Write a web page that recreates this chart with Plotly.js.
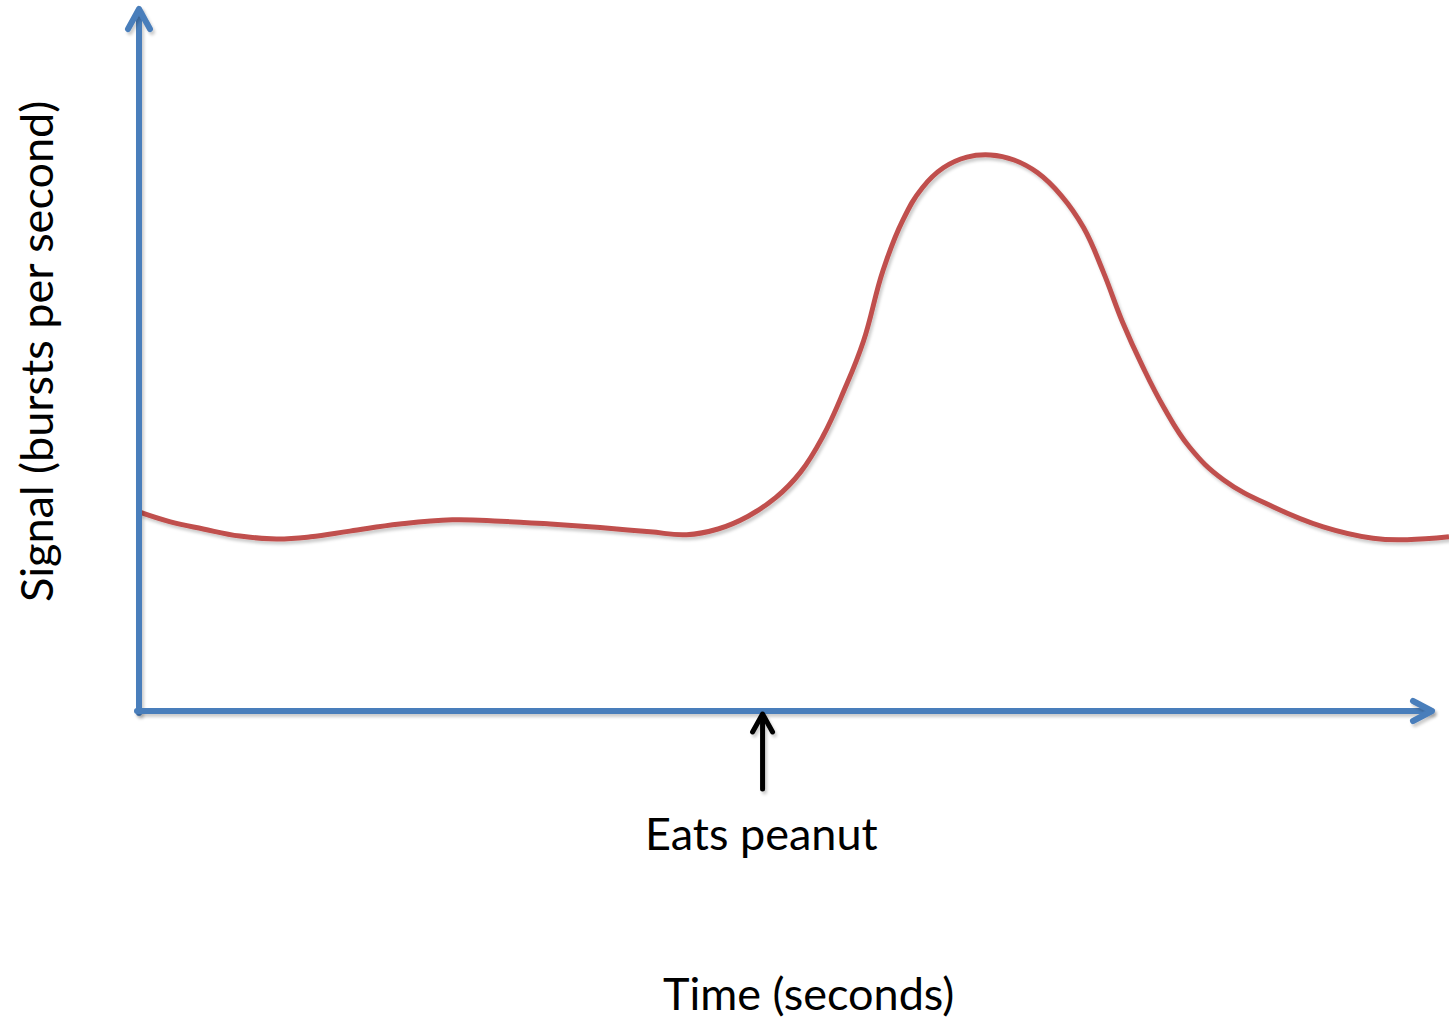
<!DOCTYPE html>
<html>
<head>
<meta charset="utf-8">
<script src="https://cdn.plot.ly/plotly-3.0.1.min.js"></script>
<style>
  html, body { margin: 0; padding: 0; background: #fff; }
  #chart { width: 1449px; height: 1021px; }
  .shapelayer path { stroke-linecap: round; stroke-linejoin: round; }
</style>
</head>
<body>
<div id="chart"></div>
<script>
// ---- Data ----
const time = [0, 2.4, 4.9, 7.7, 10.5, 13.1, 16.1, 19.9, 23.9, 27.6, 31.4, 35.2, 39.0, 41.8, 44.2, 46.5, 48.6, 50.5, 52.2, 53.8, 55.3, 56.8, 58.3, 59.8, 61.4, 63.2, 65.0, 66.8, 68.6, 70.4, 72.1, 73.6, 75.1, 76.6, 78.2, 80.2, 82.8, 86.6, 90.4, 94.2, 96.8, 100];
const signal = [28.0, 26.6, 25.6, 24.6, 24.2, 24.5, 25.3, 26.3, 26.9, 26.7, 26.3, 25.8, 25.2, 24.8, 25.6, 27.4, 30.0, 33.6, 38.6, 45.0, 52.0, 62.0, 69.0, 73.6, 76.4, 77.9, 78.2, 77.5, 75.7, 72.5, 68.0, 61.8, 54.6, 48.5, 42.8, 37.1, 32.5, 28.7, 25.9, 24.3, 24.1, 24.5];
const eventTime = [47.6];
const eventLabel = ["Eats peanut"];
const xTitle = "Time (seconds)";
const yTitle = "Signal (bursts per second)";

// ---- Layout geometry ----
const W = 1449, H = 1021;
const M = {l: 139, r: 0, t: 0, b: 310};
const PW = W - M.l - M.r, PH = H - M.t - M.b;
const XR = [0, 100], YR = [0, 100];
// pixel -> paper helpers (for decorations)
const px = p => (p - M.l) / PW;
const py = p => (M.t + PH - p) / PH;
const dataToPx = x => M.l + (x - XR[0]) / (XR[1] - XR[0]) * PW;

const blue = '#4A7EBB', red = '#C0504D';
const fontFam = 'Lato, "Open Sans", sans-serif';

const shapes = [];
function seg(x0, y0, x1, y1, color, w) {
  shapes.push({type: 'path', xref: 'paper', yref: 'paper',
    path: `M${px(x0)},${py(y0)} L${px(x1)},${py(y1)}`,
    line: {color: color, width: w}});
}
function chev(ax, ay, tx, ty, bx, by, color, w) {
  shapes.push({type: 'path', xref: 'paper', yref: 'paper',
    path: `M${px(ax)},${py(ay)} L${px(tx)},${py(ty)} L${px(bx)},${py(by)}`,
    line: {color: color, width: w}});
}
// y axis with arrow
seg(139, 713, 139, 10, blue, 6);
chev(128, 29, 139, 9, 150, 29, blue, 6);
// x axis with arrow
seg(137, 711, 1431, 711, blue, 6);
chev(1413, 701, 1432, 711, 1413, 721, blue, 6);
// event arrow
const ex = dataToPx(eventTime[0]);
seg(ex, 789, ex, 716, '#000', 5);
chev(ex - 10, 732, ex, 714, ex + 10, 732, '#000', 5);

const annotations = [
  {text: eventLabel[0], xref: 'paper', yref: 'paper', x: px(ex - 1), y: py(833),
   showarrow: false, xanchor: 'center', yanchor: 'middle',
   font: {family: fontFam, size: 45, color: '#000'}},
  {text: xTitle, xref: 'paper', yref: 'paper', x: px(808), y: py(993),
   showarrow: false, xanchor: 'center', yanchor: 'middle',
   font: {family: fontFam, size: 45, color: '#000'}},
  {text: yTitle, xref: 'paper', yref: 'paper', x: px(36), y: py(352),
   showarrow: false, xanchor: 'center', yanchor: 'middle', textangle: -90,
   font: {family: fontFam, size: 45, color: '#000'}}
];

const trace = {
  x: time, y: signal, type: 'scatter', mode: 'lines',
  line: {color: red, width: 5, shape: 'spline', smoothing: 1.2},
  hoverinfo: 'skip'
};

const layout = {
  width: W, height: H,
  margin: M,
  paper_bgcolor: '#fff', plot_bgcolor: '#fff',
  showlegend: false,
  xaxis: {range: XR, visible: false, showgrid: false, zeroline: false, fixedrange: true},
  yaxis: {range: YR, visible: false, showgrid: false, zeroline: false, fixedrange: true},
  shapes: shapes,
  annotations: annotations
};

Plotly.newPlot('chart', [trace], layout, {displayModeBar: false, staticPlot: true}).then(() => {
  const svg = document.querySelector('#chart .main-svg');
  const NS = 'http://www.w3.org/2000/svg';
  let defs = svg.querySelector('defs');
  if (!defs) { defs = document.createElementNS(NS, 'defs'); svg.insertBefore(defs, svg.firstChild); }
  const f = document.createElementNS(NS, 'filter');
  f.setAttribute('id', 'softshadow');
  f.setAttribute('filterUnits', 'userSpaceOnUse');
  f.setAttribute('x', '-50'); f.setAttribute('y', '-50');
  f.setAttribute('width', String(W + 100)); f.setAttribute('height', String(H + 100));
  const ds = document.createElementNS(NS, 'feDropShadow');
  ds.setAttribute('dx', '2'); ds.setAttribute('dy', '3');
  ds.setAttribute('stdDeviation', '1.5');
  ds.setAttribute('flood-color', '#000'); ds.setAttribute('flood-opacity', '0.2');
  f.appendChild(ds); defs.appendChild(f);
  document.querySelectorAll('#chart .scatterlayer .trace path.js-line').forEach(el => el.setAttribute('filter', 'url(#softshadow)'));
  document.querySelectorAll('#chart .shapelayer path').forEach(el => el.setAttribute('filter', 'url(#softshadow)'));
});
</script>
</body>
</html>
